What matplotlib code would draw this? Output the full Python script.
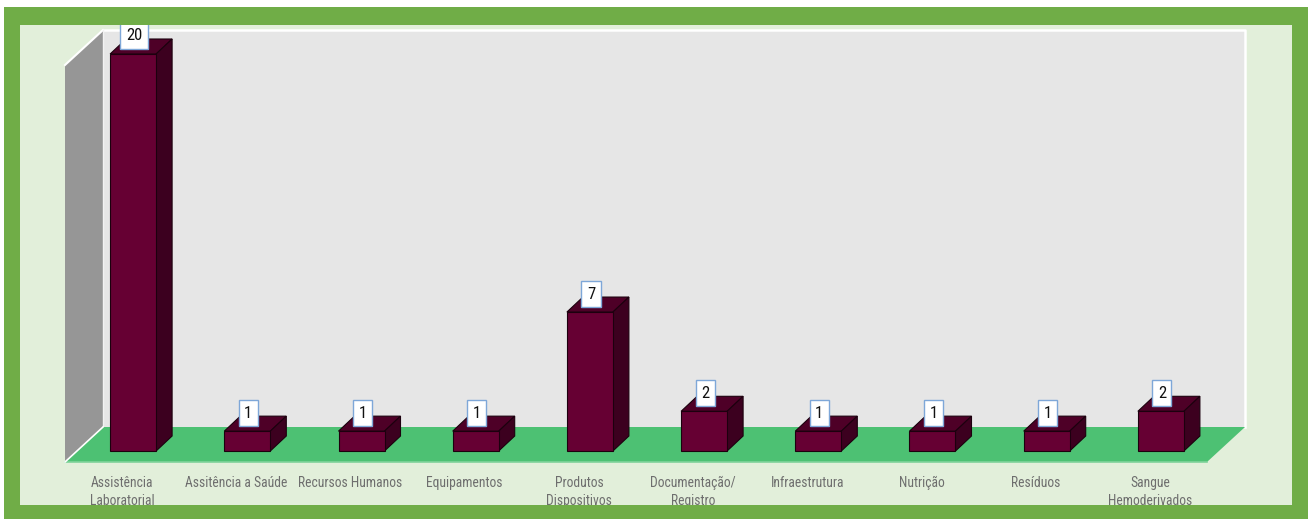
#!/usr/bin/env python3
import matplotlib
matplotlib.use('Agg')
import matplotlib.pyplot as plt
from matplotlib import font_manager as fm
from matplotlib.patches import Polygon, Rectangle


# +
# data
# -
categories = ['Assistência\nLaboratorial', 'Assitência a Saúde', 'Recursos Humanos', 'Equipamentos',
              'Produtos\nDispositivos', 'Documentação/\nRegistro', 'Infraestrutura', 'Nutrição',
              'Resíduos', 'Sangue\nHemoderivados']
values = [20, 1, 1, 1, 7, 2, 1, 1, 1, 2]


# +
# constant(s)
# -
W, H = 1308, 519
BORDER = '#70ad47'
INNER = '#e2efda'
WALL = '#e6e6e6'
SIDE = '#969696'
FLOOR = '#4dc173'
BAR_FRONT = '#660033'
BAR_TOP = '#4e0027'
BAR_SIDE = '#3c001f'
BAR_EDGE = '#1c000e'

# tall, narrow font if there is one
_installed = {f.name for f in fm.fontManager.ttflist}
_font = next((f for f in ['Roboto Condensed', 'PT Sans Narrow', 'Archivo Narrow', 'Open Sans Condensed',
                          'Liberation Sans Narrow', 'Carlito']
              if f in _installed), 'DejaVu Sans')
LABEL_FONT = [_font, 'DejaVu Sans']


def fig_rect(x0, y0, x1, y1, **kw):
    # pixel box (top-left origin) -> figure fraction rectangle
    return Rectangle((x0 / W, 1 - y1 / H), (x1 - x0) / W, (y1 - y0) / H,
                     transform=fig.transFigure, **kw)


fig = plt.figure(figsize=(W / 100, H / 100), dpi=100)
fig.patch.set_facecolor('white')

# frame: light inner panel, green border drawn on top
fig.add_artist(fig_rect(20, 25, 1292, 505, facecolor=INNER, edgecolor='none', zorder=-5))
for _box in [(4, 7, 1308, 25), (4, 505, 1308, 519), (4, 7, 20, 519), (1292, 7, 1308, 519)]:
    fig.add_artist(fig_rect(*_box, facecolor=BORDER, edgecolor='none', zorder=10))

ax = fig.add_axes([65 / W, 1 - 462 / H, 1142 / W, 397 / H])
ax.set_xlim(-0.5, len(categories) - 0.5)
ax.set_ylim(0, 20)
ax.patch.set_visible(False)
for _s in ax.spines.values():
    _s.set_visible(False)

# chart depth in axes fraction
dX, dY = 38 / 1142, 35 / 397

# back wall, side wall, floor
ax.add_patch(Rectangle((dX, dY), 1, 1, transform=ax.transAxes, facecolor=WALL,
                       edgecolor='none', clip_on=False, zorder=0))
ax.plot([dX, 1 + dX, 1 + dX], [1 + dY, 1 + dY, dY], color='white', lw=1.8,
        transform=ax.transAxes, clip_on=False, zorder=0.5)
ax.add_patch(Polygon([(0, 0), (0, 1), (dX, 1 + dY), (dX, dY)], closed=True, transform=ax.transAxes,
                     facecolor=SIDE, edgecolor='none', clip_on=False, zorder=1))
ax.plot([0, dX], [1, 1 + dY], color='white', lw=1.5, transform=ax.transAxes, clip_on=False, zorder=1.5)
ax.plot([dX, dX], [dY, 1 + dY], color='#f2f2f2', lw=1.0, transform=ax.transAxes, clip_on=False, zorder=1.5)
ax.add_patch(Polygon([(0, 0), (1, 0), (1 + dX, dY), (dX, dY)], closed=True, transform=ax.transAxes,
                     facecolor=FLOOR, edgecolor='none', clip_on=False, zorder=2))
ax.plot([0, 1], [0, 0], color='#7fd39a', lw=1.2, transform=ax.transAxes, clip_on=False, zorder=2.5)
ax.plot([0, dX], [0, dY], color='white', lw=1.2, transform=ax.transAxes, clip_on=False, zorder=2.5)

# pixel sizes -> data units
_p0 = ax.transData.transform((0, 0))
_p1 = ax.transData.transform((1, 1))
sx, sy = _p1 - _p0
ox, oy = 11 / sx, 11 / sy          # bar position inside the depth
ddx, ddy = 16 / sx, 15 / sy        # bar depth
bw = 46 / sx                       # bar width

xs = [i + ox for i in range(len(values))]
ax.bar(xs, values, width=bw, bottom=oy, color=BAR_FRONT, edgecolor=BAR_EDGE,
       linewidth=0.8, clip_on=False, zorder=4)
for x, v in zip(xs, values):
    x0, x1 = x - bw / 2, x + bw / 2
    y0, y1 = oy, v + oy
    ax.add_patch(Polygon([(x0, y1), (x1, y1), (x1 + ddx, y1 + ddy), (x0 + ddx, y1 + ddy)], closed=True,
                         facecolor=BAR_TOP, edgecolor=BAR_EDGE, lw=0.8, clip_on=False, zorder=3))
    ax.add_patch(Polygon([(x1, y0), (x1, y1), (x1 + ddx, y1 + ddy), (x1 + ddx, y0 + ddy)], closed=True,
                         facecolor=BAR_SIDE, edgecolor=BAR_EDGE, lw=0.8, clip_on=False, zorder=3))
    ax.annotate(f'{v}', xy=(x, y1), xytext=(1, 18), textcoords='offset pixels', annotation_clip=False,
                ha='center', va='center', fontsize=12, family=LABEL_FONT, color='#111111', zorder=6,
                bbox=dict(boxstyle='square,pad=0.33', facecolor='white', edgecolor='#7ea7d8', lw=1.0))

# category labels
ax.set_xticks(range(len(categories)))
ax.set_xticklabels(categories, color='#6e6e6e', fontsize=9.8, family=LABEL_FONT, linespacing=1.35)
ax.tick_params(axis='x', length=0, pad=10)
ax.set_yticks([])

plt.savefig('out.png', dpi=100)
plt.close()
